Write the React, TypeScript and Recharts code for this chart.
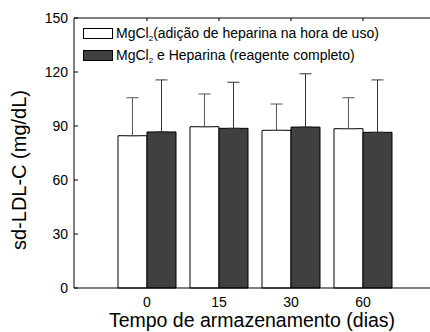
import { BarChart, Bar, XAxis, YAxis, ErrorBar, Legend } from "recharts";

const FONT = '"Liberation Sans", Arial, sans-serif';

const days = ["0", "15", "30", "60"];
const mgcl2Mean = [84.6, 89.6, 87.6, 88.5];
const mgcl2Err = [21.1, 18.2, 14.6, 17.2];
const completeMean = [86.7, 88.7, 89.4, 86.5];
const completeErr = [28.9, 25.6, 29.6, 29.1];

const yTicks = [0, 30, 60, 90, 120, 150];
const yMinorTicks = [15, 45, 75, 105, 135];

const seriesNames = ["MgCl2(adição de heparina na hora de uso)", "MgCl2 e Heparina (reagente completo)"];
const seriesFills = ["#ffffff", "#404040"];

const data = days.map((day, i) => ({
  day,
  mgcl2: mgcl2Mean[i],
  mgcl2Err: [0, mgcl2Err[i]],
  complete: completeMean[i],
  completeErr: [0, completeErr[i]],
}));

// "MgCl2" -> MgCl with subscript 2
const renderName = (name: string) => {
  const rest = name.replace("MgCl2", "");
  return (
    <>
      MgCl<sub style={{ fontSize: 8, lineHeight: 0, verticalAlign: -3 }}>2</sub>
      {rest}
    </>
  );
};

const LegendBox = () => (
  <div style={{ fontFamily: FONT, fontSize: 14, color: "#000" }}>
    {seriesNames.map((name, i) => (
      <div key={name} style={{ display: "flex", alignItems: "center", height: 22 }}>
        <span
          style={{
            display: "inline-block",
            width: 28,
            height: 9,
            border: "1px solid #000",
            background: seriesFills[i],
            marginRight: 3,
          }}
        />
        <span style={{ whiteSpace: "nowrap" }}>{renderName(name)}</span>
      </div>
    ))}
  </div>
);

// eslint-disable-next-line @typescript-eslint/no-explicit-any
const YTitle = (props: any) => {
  const { x, y, height } = props.viewBox;
  const cx = x + 19;
  const cy = y + height / 2 + 17;
  return (
    <text
      x={cx}
      y={cy}
      transform={`rotate(-90 ${cx} ${cy})`}
      textAnchor="middle"
      dominantBaseline="central"
      fontFamily={FONT}
      fontSize={20}
      fill="#000"
    >
      sd-LDL-C (mg/dL)
    </text>
  );
};

// eslint-disable-next-line @typescript-eslint/no-explicit-any
const XTitle = (props: any) => {
  const { x, y, width } = props.viewBox;
  return (
    <text x={x + width / 2} y={y + 39} textAnchor="middle" fontFamily={FONT} fontSize={19.5} fill="#000">
      Tempo de armazenamento (dias)
    </text>
  );
};

const tickStyle = { fontFamily: FONT, fontSize: 14, fill: "#000" };

export default function App() {
  return (
    <div style={{ position: "absolute", left: 0, top: 0, width: 430, height: 332, background: "#fff" }}>
      <BarChart
        width={430}
        height={332}
        data={data}
        margin={{ top: 18, right: 0, left: 0, bottom: 0 }}
        barCategoryGap={7}
        barGap={0}
      >
        <XAxis
          dataKey="day"
          height={44}
          padding={{ left: 37, right: 31 }}
          tickLine={false}
          tickSize={6}
          tickMargin={3}
          tick={tickStyle}
          axisLine={{ stroke: "#000" }}
          label={<XTitle />}
        />
        <XAxis
          xAxisId="top"
          dataKey="day"
          orientation="top"
          mirror
          padding={{ left: 37, right: 31 }}
          tickSize={3}
          tick={() => <g />}
          tickLine={{ stroke: "#000" }}
          axisLine={{ stroke: "#000" }}
        />
        <YAxis
          width={74}
          domain={[0, 150]}
          ticks={yTicks}
          interval={0}
          tickSize={-4}
          tickMargin={10}
          tick={tickStyle}
          tickLine={{ stroke: "#000" }}
          axisLine={{ stroke: "#000" }}
          label={<YTitle />}
        />
        <YAxis
          yAxisId="minor"
          mirror
          width={0}
          domain={[0, 150]}
          ticks={yMinorTicks}
          interval={0}
          tickSize={2}
          tick={() => <g />}
          tickLine={{ stroke: "#000" }}
          axisLine={false}
        />
        <Legend
          layout="horizontal"
          verticalAlign="middle"
          align="center"
          wrapperStyle={{ top: 22, left: 83, width: "auto" }}
          content={<LegendBox />}
        />
        <Bar dataKey="mgcl2" name={seriesNames[0]} fill={seriesFills[0]} stroke="#000" isAnimationActive={false}>
          <ErrorBar dataKey="mgcl2Err" width={6} stroke="#555" strokeWidth={1} direction="y" />
        </Bar>
        <Bar dataKey="complete" name={seriesNames[1]} fill={seriesFills[1]} stroke="#000" isAnimationActive={false}>
          <ErrorBar dataKey="completeErr" width={6} stroke="#333" strokeWidth={1} direction="y" />
        </Bar>
      </BarChart>
    </div>
  );
}
